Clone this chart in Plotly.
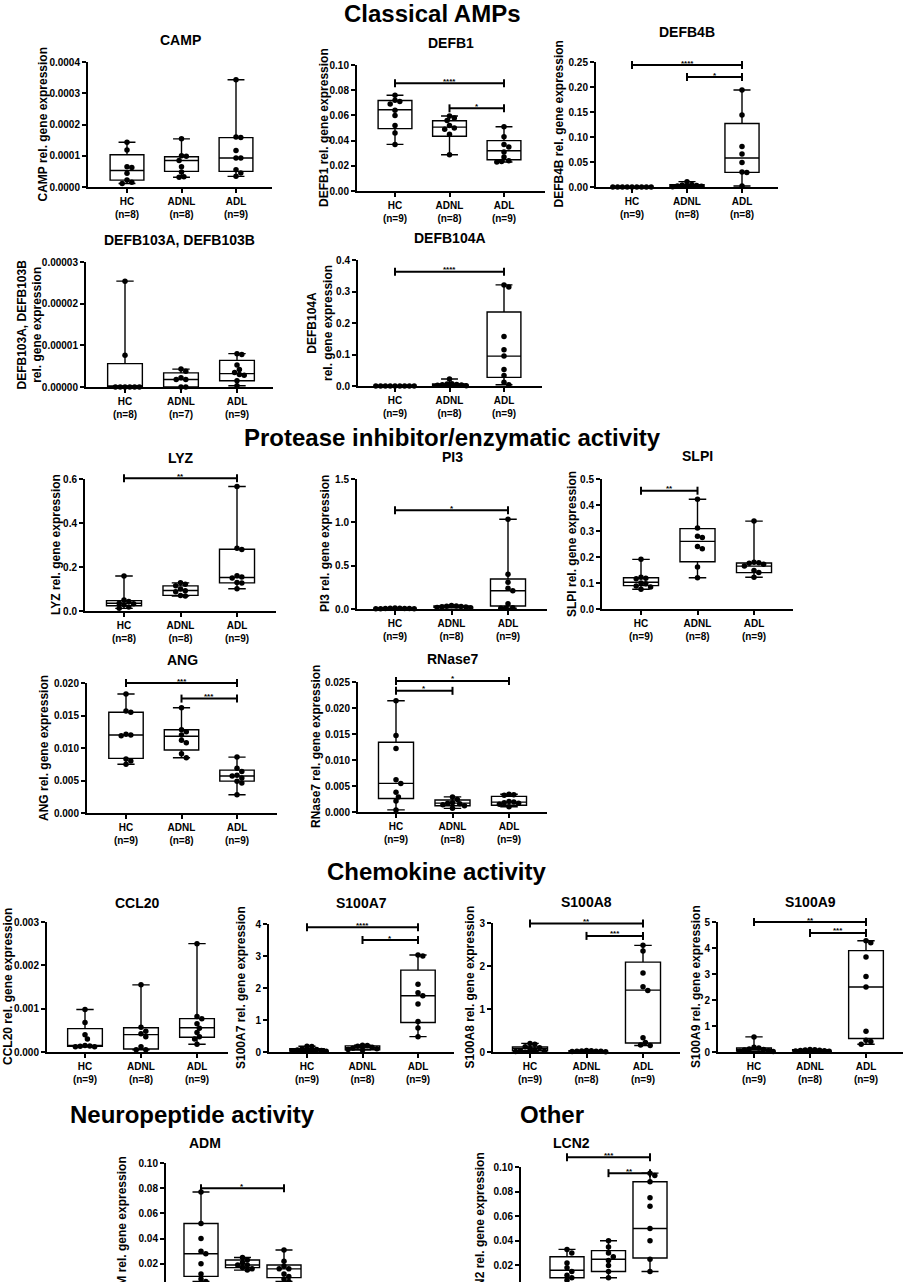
import numpy as np
import plotly.graph_objects as go

W, H = 905, 1282
FONT = "Liberation Sans, Arial, sans-serif"
GROUPS = ["HC", "ADNL", "ADL"]

# ---------------- data ----------------
CAMP_N = [8, 8, 9]
CAMP_HC = [0.000143, 0.000118, 0.000065, 0.000062, 0.000044, 0.000022, 0.000015, 0.000011]
CAMP_ADNL = [0.000154, 0.000100, 0.000098, 0.000085, 0.000065, 0.000048, 0.000033, 0.000031]
CAMP_ADL = [0.000343, 0.000160, 0.000158, 0.000117, 0.000093, 0.000093, 0.000055, 0.000045, 0.000034]
CAMP_Q1 = [0.000022, 0.000050, 0.000050]
CAMP_MED = [0.000053, 0.000085, 0.000093]
CAMP_Q3 = [0.000103, 0.000097, 0.000158]
CAMP_SIG = []
CAMP_TICKS = [0, 0.0001, 0.0002, 0.0003, 0.0004]

DEFB1_N = [9, 8, 9]
DEFB1_HC = [0.076, 0.072, 0.071, 0.069, 0.064, 0.060, 0.052, 0.046, 0.037]
DEFB1_ADNL = [0.0595, 0.058, 0.056, 0.052, 0.050, 0.049, 0.045, 0.0288]
DEFB1_ADL = [0.051, 0.043, 0.037, 0.035, 0.031, 0.027, 0.024, 0.0235, 0.023]
DEFB1_Q1 = [0.0495, 0.0435, 0.0248]
DEFB1_MED = [0.0645, 0.0507, 0.0320]
DEFB1_Q3 = [0.0718, 0.0557, 0.0400]
DEFB1_SIG = [(0, 2, 0.0855, "****"), (1, 2, 0.0656, "*")]
DEFB1_TICKS = [0, 0.02, 0.04, 0.06, 0.08, 0.10]

DEFB4B_N = [9, 8, 8]
DEFB4B_HC = [0, 0, 0, 0, 0, 0, 0, 0, 0]
DEFB4B_ADNL = [0.0107, 0.005, 0.004, 0.003, 0.002, 0.0015, 0.001, 0.0005]
DEFB4B_ADL = [0.194, 0.144, 0.081, 0.066, 0.049, 0.030, 0.029, 0.002]
DEFB4B_Q1 = [0, 0.001, 0.0293]
DEFB4B_MED = [0, 0.0025, 0.058]
DEFB4B_Q3 = [0, 0.0045, 0.127]
DEFB4B_SIG = [(0, 2, 0.244, "****"), (1, 2, 0.220, "*")]
DEFB4B_TICKS = [0, 0.05, 0.10, 0.15, 0.20, 0.25]

DEFB103_N = [8, 7, 9]
DEFB103_HC = [2.54e-5, 7.6e-6, 0, 0, 0, 0, 0, 0]
DEFB103_ADNL = [4.3e-6, 3.8e-6, 2.2e-6, 1.8e-6, 1.8e-6, 0, 0]
DEFB103_ADL = [8.0e-6, 7.8e-6, 5.3e-6, 4.2e-6, 3.5e-6, 3.0e-6, 2.8e-6, 1.5e-6, 0.3e-6]
DEFB103_Q1 = [0, 0, 1.5e-6]
DEFB103_MED = [0, 1.8e-6, 3.2e-6]
DEFB103_Q3 = [5.6e-6, 3.4e-6, 6.4e-6]
DEFB103_SIG = []
DEFB103_TICKS = [0, 0.00001, 0.00002, 0.00003]

DEFB104A_N = [9, 8, 9]
DEFB104A_HC = [0, 0, 0, 0, 0, 0, 0, 0, 0]
DEFB104A_ADNL = [0.022, 0.007, 0.006, 0.005, 0.004, 0.003, 0.002, 0.001]
DEFB104A_ADL = [0.321, 0.314, 0.157, 0.115, 0.095, 0.052, 0.033, 0.012, 0.004]
DEFB104A_Q1 = [0, 0.002, 0.0275]
DEFB104A_MED = [0, 0.0045, 0.095]
DEFB104A_Q3 = [0, 0.0065, 0.235]
DEFB104A_SIG = [(0, 2, 0.363, "****")]
DEFB104A_TICKS = [0, 0.1, 0.2, 0.3, 0.4]

LYZ_N = [8, 8, 9]
LYZ_HC = [0.159, 0.050, 0.043, 0.035, 0.033, 0.028, 0.018, 0.012]
LYZ_ADNL = [0.128, 0.122, 0.115, 0.100, 0.092, 0.088, 0.070, 0.068]
LYZ_ADL = [0.566, 0.285, 0.280, 0.160, 0.155, 0.150, 0.130, 0.127, 0.101]
LYZ_Q1 = [0.024, 0.071, 0.128]
LYZ_MED = [0.035, 0.093, 0.152]
LYZ_Q3 = [0.047, 0.114, 0.281]
LYZ_SIG = [(0, 2, 0.603, "**")]
LYZ_TICKS = [0, 0.2, 0.4, 0.6]

PI3_N = [9, 8, 9]
PI3_HC = [0.012, 0.010, 0.008, 0.007, 0.006, 0.005, 0.004, 0.003, 0.002]
PI3_ADNL = [0.040, 0.035, 0.032, 0.030, 0.025, 0.022, 0.018, 0.015]
PI3_ADL = [1.035, 0.40, 0.31, 0.24, 0.21, 0.06, 0.015, 0.010, 0.008]
PI3_Q1 = [0.004, 0.019, 0.035]
PI3_MED = [0.006, 0.027, 0.211]
PI3_Q3 = [0.009, 0.034, 0.346]
PI3_SIG = [(0, 2, 1.14, "*")]
PI3_TICKS = [0, 0.5, 1.0, 1.5]

SLPI_N = [9, 8, 9]
SLPI_HC = [0.191, 0.122, 0.118, 0.116, 0.100, 0.097, 0.088, 0.085, 0.076]
SLPI_ADNL = [0.422, 0.312, 0.280, 0.275, 0.240, 0.232, 0.162, 0.120]
SLPI_ADL = [0.338, 0.180, 0.178, 0.176, 0.172, 0.165, 0.148, 0.140, 0.122]
SLPI_Q1 = [0.090, 0.182, 0.140]
SLPI_MED = [0.103, 0.260, 0.165]
SLPI_Q3 = [0.120, 0.309, 0.177]
SLPI_SIG = [(0, 1, 0.455, "**")]
SLPI_TICKS = [0, 0.1, 0.2, 0.3, 0.4, 0.5]

ANG_N = [9, 8, 9]
ANG_HC = [0.0183, 0.0157, 0.0155, 0.0121, 0.0120, 0.0119, 0.0083, 0.0080, 0.0075]
ANG_ADNL = [0.0162, 0.0128, 0.0125, 0.0120, 0.0112, 0.0108, 0.0091, 0.0085]
ANG_ADL = [0.0086, 0.0069, 0.0064, 0.0058, 0.0057, 0.0054, 0.0049, 0.0046, 0.0028]
ANG_Q1 = [0.0084, 0.0097, 0.0049]
ANG_MED = [0.0120, 0.0118, 0.0057]
ANG_Q3 = [0.0155, 0.0128, 0.0066]
ANG_SIG = [(0, 2, 0.0200, "***"), (1, 2, 0.0176, "***")]
ANG_TICKS = [0, 0.005, 0.010, 0.015, 0.020]

RNASE7_N = [9, 8, 9]
RNASE7_HC = [0.0214, 0.0147, 0.0122, 0.0062, 0.0055, 0.0038, 0.0029, 0.0021, 0.0004]
RNASE7_ADNL = [0.0029, 0.0024, 0.0018, 0.0017, 0.0016, 0.0014, 0.0012, 0.0007]
RNASE7_ADL = [0.0034, 0.0033, 0.0032, 0.0020, 0.0019, 0.0018, 0.0017, 0.0015, 0.0010]
RNASE7_Q1 = [0.0026, 0.0012, 0.0013]
RNASE7_MED = [0.0055, 0.0017, 0.0019]
RNASE7_Q3 = [0.0134, 0.0023, 0.0030]
RNASE7_SIG = [(0, 2, 0.0252, "*"), (0, 1, 0.0233, "*")]
RNASE7_TICKS = [0, 0.005, 0.010, 0.015, 0.020, 0.025]

CCL20_N = [9, 8, 9]
CCL20_HC = [0.00098, 0.00068, 0.00040, 0.00030, 0.00015, 0.00014, 0.00013, 0.00012, 0.00012]
CCL20_ADNL = [0.00155, 0.00057, 0.00048, 0.00042, 0.00035, 0.00012, 0.00005, 0.00005]
CCL20_ADL = [0.00250, 0.00082, 0.00077, 0.00065, 0.00055, 0.00045, 0.00035, 0.00030, 0.00018]
CCL20_Q1 = [0.00013, 0.00007, 0.00034]
CCL20_MED = [0.00015, 0.00040, 0.00056]
CCL20_Q3 = [0.00054, 0.00056, 0.00077]
CCL20_SIG = []
CCL20_TICKS = [0, 0.001, 0.002, 0.003]

S100A7_N = [9, 8, 9]
S100A7_HC = [0.18, 0.17, 0.10, 0.08, 0.06, 0.05, 0.04, 0.03, 0.02]
S100A7_ADNL = [0.21, 0.20, 0.18, 0.15, 0.12, 0.10, 0.08, 0.06]
S100A7_ADL = [3.03, 3.00, 2.12, 1.85, 1.76, 1.50, 0.95, 0.75, 0.48]
S100A7_Q1 = [0.03, 0.07, 0.92]
S100A7_MED = [0.06, 0.135, 1.76]
S100A7_Q3 = [0.10, 0.19, 2.56]
S100A7_SIG = [(0, 2, 3.9, "****"), (1, 2, 3.5, "*")]
S100A7_TICKS = [0, 1, 2, 3, 4]

S100A8_N = [9, 8, 9]
S100A8_HC = [0.20, 0.18, 0.12, 0.10, 0.08, 0.05, 0.03, 0.02, 0.01]
S100A8_ADNL = [0.035, 0.030, 0.025, 0.020, 0.018, 0.015, 0.010, 0.008]
S100A8_ADL = [2.48, 2.35, 1.84, 1.52, 1.43, 0.33, 0.22, 0.16, 0.15]
S100A8_Q1 = [0.03, 0.012, 0.21]
S100A8_MED = [0.08, 0.019, 1.44]
S100A8_Q3 = [0.12, 0.028, 2.09]
S100A8_SIG = [(0, 2, 2.99, "**"), (1, 2, 2.70, "***")]
S100A8_TICKS = [0, 1, 2, 3]

S100A9_N = [9, 8, 9]
S100A9_HC = [0.58, 0.18, 0.15, 0.12, 0.10, 0.08, 0.05, 0.03, 0.02]
S100A9_ADNL = [0.10, 0.09, 0.08, 0.07, 0.06, 0.05, 0.04, 0.03]
S100A9_ADL = [4.28, 4.20, 3.65, 2.90, 2.50, 0.80, 0.45, 0.40, 0.30]
S100A9_Q1 = [0.04, 0.04, 0.52]
S100A9_MED = [0.10, 0.065, 2.50]
S100A9_Q3 = [0.16, 0.085, 3.90]
S100A9_SIG = [(0, 2, 5.0, "**"), (1, 2, 4.58, "***")]
S100A9_TICKS = [0, 1, 2, 3, 4, 5]

ADM_N = [9, 8, 9]
ADM_HC = [0.077, 0.052, 0.040, 0.030, 0.028, 0.020, 0.012, 0.008, 0.006]
ADM_ADNL = [0.025, 0.023, 0.021, 0.019, 0.019, 0.017, 0.016, 0.015]
ADM_ADL = [0.031, 0.022, 0.018, 0.016, 0.016, 0.012, 0.010, 0.008, 0.006]
ADM_Q1 = [0.010, 0.017, 0.009]
ADM_MED = [0.028, 0.019, 0.016]
ADM_Q3 = [0.052, 0.023, 0.019]
ADM_SIG = [(0, 2, 0.080, "*")]
ADM_TICKS = [0, 0.02, 0.04, 0.06, 0.08, 0.10]

LCN2_N = [9, 8, 9]
LCN2_HC = [0.033, 0.030, 0.022, 0.018, 0.015, 0.012, 0.010, 0.008, 0.006]
LCN2_ADNL = [0.040, 0.035, 0.030, 0.027, 0.024, 0.020, 0.015, 0.010]
LCN2_ADL = [0.095, 0.093, 0.088, 0.075, 0.068, 0.050, 0.040, 0.025, 0.015]
LCN2_Q1 = [0.010, 0.015, 0.026]
LCN2_MED = [0.016, 0.025, 0.050]
LCN2_Q3 = [0.027, 0.032, 0.088]
LCN2_SIG = [(0, 2, 0.108, "***"), (1, 2, 0.095, "**")]
LCN2_TICKS = [0, 0.02, 0.04, 0.06, 0.08, 0.10]

SECTIONS = [("Classical AMPs", 432, 14), ("Protease inhibitor/enzymatic activity", 452, 437),
            ("Chemokine activity", 436, 871), ("Neuropeptide activity", 192, 1114), ("Other", 552, 1114)]

# ---------------- layout of the panels (pixel geometry) ----------------
def P(gene, pts, n, q1, med, q3, sig, ticks, fmt, ytitle, L, R, c0, s, y0, yt, ty, yx, xlabels=True, bw=0.62, yty=None):
    return dict(gene=gene, pts=pts, n=n, q1=q1, med=med, q3=q3, sig=sig, ticks=ticks, fmt=fmt,
                ytitle=ytitle, L=L, R=R, c0=c0, s=s, y0=y0, yt=yt, ty=ty, yx=yx, xlabels=xlabels,
                bw=bw, yty=yty if yty is not None else (y0 + yt) / 2)

PANELS = [
    P("CAMP", (CAMP_HC, CAMP_ADNL, CAMP_ADL), CAMP_N, CAMP_Q1, CAMP_MED, CAMP_Q3, CAMP_SIG, CAMP_TICKS, "{:.4f}",
      "CAMP rel. gene expression", 88, 272, 127, 54.5, 187, 62, 40, 43),
    P("DEFB1", (DEFB1_HC, DEFB1_ADNL, DEFB1_ADL), DEFB1_N, DEFB1_Q1, DEFB1_MED, DEFB1_Q3, DEFB1_SIG, DEFB1_TICKS, "{:.2f}",
      "DEFB1 rel. gene expression", 357, 545, 395, 54.5, 191, 65, 43, 324),
    P("DEFB4B", (DEFB4B_HC, DEFB4B_ADNL, DEFB4B_ADL), DEFB4B_N, DEFB4B_Q1, DEFB4B_MED, DEFB4B_Q3, DEFB4B_SIG, DEFB4B_TICKS, "{:.2f}",
      "DEFB4B rel. gene expression", 596, 778, 632, 55, 187, 62, 32, 559),
    P("DEFB103A, DEFB103B", (DEFB103_HC, DEFB103_ADNL, DEFB103_ADL), DEFB103_N, DEFB103_Q1, DEFB103_MED, DEFB103_Q3, DEFB103_SIG,
      DEFB103_TICKS, "{:.5f}", "DEFB103A, DEFB103B<br>rel. gene expression", 86, 273, 125, 56, 387, 262, 240, 30),
    P("DEFB104A", (DEFB104A_HC, DEFB104A_ADNL, DEFB104A_ADL), DEFB104A_N, DEFB104A_Q1, DEFB104A_MED, DEFB104A_Q3, DEFB104A_SIG,
      DEFB104A_TICKS, "{:.1f}", "DEFB104A<br>rel. gene expression", 358, 542, 395, 54.5, 386, 260, 238, 320),
    P("LYZ", (LYZ_HC, LYZ_ADNL, LYZ_ADL), LYZ_N, LYZ_Q1, LYZ_MED, LYZ_Q3, LYZ_SIG, LYZ_TICKS, "{:.1f}",
      "LYZ rel. gene expression", 85, 276, 124, 56.5, 611, 479, 458, 56),
    P("PI3", (PI3_HC, PI3_ADNL, PI3_ADL), PI3_N, PI3_Q1, PI3_MED, PI3_Q3, PI3_SIG, PI3_TICKS, "{:.1f}",
      "PI3 rel. gene expression", 357, 547, 395, 56.5, 609, 479, 457, 325),
    P("SLPI", (SLPI_HC, SLPI_ADNL, SLPI_ADL), SLPI_N, SLPI_Q1, SLPI_MED, SLPI_Q3, SLPI_SIG, SLPI_TICKS, "{:.1f}",
      "SLPI rel. gene expression", 602, 793, 641, 56.5, 609, 479, 456, 572),
    P("ANG", (ANG_HC, ANG_ADNL, ANG_ADL), ANG_N, ANG_Q1, ANG_MED, ANG_Q3, ANG_SIG, ANG_TICKS, "{:.3f}",
      "ANG rel. gene expression", 87, 277, 126, 55.5, 813, 683, 660, 44),
    P("RNase7", (RNASE7_HC, RNASE7_ADNL, RNASE7_ADL), RNASE7_N, RNASE7_Q1, RNASE7_MED, RNASE7_Q3, RNASE7_SIG, RNASE7_TICKS, "{:.3f}",
      "RNase7 rel. gene expression", 358, 547, 396, 56.5, 812, 682, 659, 316),
    P("CCL20", (CCL20_HC, CCL20_ADNL, CCL20_ADL), CCL20_N, CCL20_Q1, CCL20_MED, CCL20_Q3, CCL20_SIG, CCL20_TICKS, "{:.3f}",
      "CCL20 rel. gene expression", 47, 228, 85, 56, 1052, 922, 903, 8),
    P("S100A7", (S100A7_HC, S100A7_ADNL, S100A7_ADL), S100A7_N, S100A7_Q1, S100A7_MED, S100A7_Q3, S100A7_SIG, S100A7_TICKS, "{:.0f}",
      "S100A7 rel. gene expression", 269, 454, 307, 55.5, 1052, 924, 903, 241),
    P("S100A8", (S100A8_HC, S100A8_ADNL, S100A8_ADL), S100A8_N, S100A8_Q1, S100A8_MED, S100A8_Q3, S100A8_SIG, S100A8_TICKS, "{:.0f}",
      "S100A8 rel. gene expression", 493, 680, 530, 56.5, 1052, 923, 902, 469),
    P("S100A9", (S100A9_HC, S100A9_ADNL, S100A9_ADL), S100A9_N, S100A9_Q1, S100A9_MED, S100A9_Q3, S100A9_SIG, S100A9_TICKS, "{:.0f}",
      "S100A9 rel. gene expression", 718, 903, 754, 56, 1052, 922, 902, 696),
    P("ADM", (ADM_HC, ADM_ADNL, ADM_ADL), ADM_N, ADM_Q1, ADM_MED, ADM_Q3, ADM_SIG, ADM_TICKS, "{:.2f}",
      "ADM rel. gene expression", 166, 320, 201, 41.5, 1289, 1163, 1143, 122, False, 0.82, 1230),
    P("LCN2", (LCN2_HC, LCN2_ADNL, LCN2_ADL), LCN2_N, LCN2_Q1, LCN2_MED, LCN2_Q3, LCN2_SIG, LCN2_TICKS, "{:.2f}",
      "LCN2 rel. gene expression", 521, 690, 567, 41.5, 1290, 1167, 1143, 480, False, 0.82, 1228),
]


def fx(px):
    return px / W


def fy(py):
    return 1 - py / H


def swarm(vals, scale, dmin=4.8):
    """horizontal pixel offsets so that markers do not pile up"""
    vals = np.asarray(vals, float)
    order = np.argsort(-vals, kind="stable")
    placed = []
    offs = np.zeros(len(vals))
    step = dmin / 2.0
    for idx in order:
        y = vals[idx] * scale
        for k in range(200):
            c = 0.0 if k == 0 else ((k + 1) // 2) * step * (1 if k % 2 else -1)
            if all((c - px) ** 2 + (y - py) ** 2 >= dmin ** 2 - 1e-9 for px, py in placed):
                break
        placed.append((c, y))
        offs[idx] = c
    return offs


fig = go.Figure()
shapes = []
annotations = []
BOLD = dict(family=FONT, color="black", weight="bold")

for i, p in enumerate(PANELS, start=1):
    xa = "x" if i == 1 else f"x{i}"
    ya = "y" if i == 1 else f"y{i}"
    top = p["ticks"][-1]
    span_px = p["y0"] - p["yt"]
    scale = span_px / top
    bottom_px = min(p["y0"], H)
    ybot = (p["y0"] - bottom_px) / scale

    # boxes (min-to-max whiskers)
    lows = [min(v) for v in p["pts"]]
    highs = [max(v) for v in p["pts"]]
    fig.add_trace(go.Box(
        x=[0, 1, 2], q1=p["q1"], median=p["med"], q3=p["q3"],
        lowerfence=lows, upperfence=highs, width=p["bw"], whiskerwidth=0.5,
        fillcolor="white", line=dict(color="black", width=1.4), boxpoints=False,
        hoverinfo="skip", xaxis=xa, yaxis=ya, showlegend=False))

    # individual points
    xs, ys = [], []
    for k, vals in enumerate(p["pts"]):
        off = swarm(vals, scale)
        xs += list(k + off / p["s"])
        ys += list(vals)
    fig.add_trace(go.Scatter(
        x=xs, y=ys, mode="markers", marker=dict(color="black", size=5.5, line=dict(width=0)),
        cliponaxis=False, hoverinfo="skip", xaxis=xa, yaxis=ya, showlegend=False))

    xkey = "xaxis" if i == 1 else f"xaxis{i}"
    ykey = "yaxis" if i == 1 else f"yaxis{i}"
    xr = [(p["L"] - p["c0"]) / p["s"], (p["R"] - p["c0"]) / p["s"]]
    fig.update_layout(**{
        xkey: dict(domain=[fx(p["L"]), fx(p["R"])], range=xr, anchor=ya, automargin=False,
                   tickvals=[0, 1, 2],
                   ticktext=[f"{g}<br>(n={n})" for g, n in zip(GROUPS, p["n"])],
                   showline=p["xlabels"], linecolor="black", linewidth=2,
                   ticks="outside" if p["xlabels"] else "", ticklen=4, tickwidth=1.5, tickcolor="black",
                   showticklabels=p["xlabels"], tickfont=dict(size=10, **BOLD),
                   showgrid=False, zeroline=False, fixedrange=True),
        ykey: dict(domain=[fy(bottom_px), fy(p["yt"])], range=[ybot, top], anchor=xa, automargin=False,
                   tickvals=p["ticks"], ticktext=[p["fmt"].format(t) for t in p["ticks"]],
                   showline=True, linecolor="black", linewidth=2,
                   ticks="outside", ticklen=4, tickwidth=1.5, tickcolor="black",
                   tickfont=dict(size=10, **BOLD), showgrid=False, zeroline=False, fixedrange=True),
    })

    # panel title
    annotations.append(dict(x=fx((p["L"] + p["R"]) / 2) if p["xlabels"] else fx(p["c0"] + p["s"] * 0.1),
                            y=fy(p["ty"]), xref="paper", yref="paper",
                            text=p["gene"], showarrow=False, xanchor="center", yanchor="middle",
                            font=dict(size=14, **BOLD)))
    # y-axis title
    annotations.append(dict(x=fx(p["yx"]), y=fy(p["yty"]), xref="paper", yref="paper",
                            text=p["ytitle"], showarrow=False, textangle=-90, xanchor="center",
                            yanchor="middle", font=dict(size=12, **BOLD)))

    # significance brackets
    for a, b, lvl, lab in p["sig"]:
        xa_px = p["c0"] + a * p["s"]
        xb_px = p["c0"] + b * p["s"]
        yl = p["y0"] - lvl * scale
        shapes.append(dict(type="line", xref="paper", yref="paper", x0=fx(xa_px), x1=fx(xb_px),
                           y0=fy(yl), y1=fy(yl), line=dict(color="black", width=2)))
        for xe in (xa_px, xb_px):
            shapes.append(dict(type="line", xref="paper", yref="paper", x0=fx(xe), x1=fx(xe),
                               y0=fy(yl - 4), y1=fy(yl + 4), line=dict(color="black", width=2)))
        annotations.append(dict(x=fx((xa_px + xb_px) / 2), y=fy(yl - 2), xref="paper", yref="paper",
                                text=lab, showarrow=False, xanchor="center", yanchor="middle",
                                font=dict(size=8, **BOLD)))

for text, x, y in SECTIONS:
    annotations.append(dict(x=fx(x), y=fy(y), xref="paper", yref="paper", text=text, showarrow=False,
                            xanchor="center", yanchor="middle", font=dict(size=24, **BOLD)))

fig.update_layout(width=W, height=H, margin=dict(l=0, r=0, t=0, b=0, pad=0, autoexpand=False),
                  paper_bgcolor="white", plot_bgcolor="white", showlegend=False,
                  shapes=shapes, annotations=annotations)

fig.write_html("out.html", config={"displayModeBar": False},
               post_script="document.body.style.margin='0px';")
